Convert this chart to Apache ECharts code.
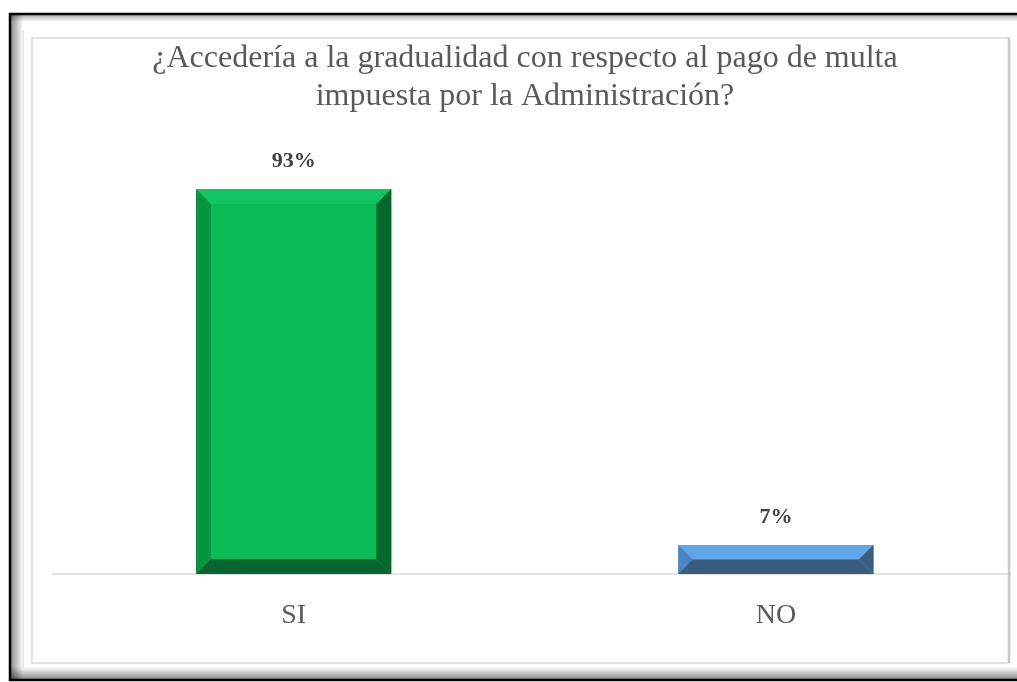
<!DOCTYPE html>
<html>
<head>
<meta charset="utf-8">
<script src="https://cdn.jsdelivr.net/npm/echarts@6/dist/echarts.min.js"></script>
<style>
  html, body { margin: 0; padding: 0; background: #fff; }
  #chart { width: 1017px; height: 682px; }
</style>
</head>
<body>
<div id="chart"></div>
<script>
// Survey answers
const categories = ['SI', 'NO'];
const percentValues = [93, 7];
const chartTitle = '¿Accedería a la gradualidad con respecto al pago de multa\nimpuesta por la Administración?';

// Bevel shades per bar: top, face, left, right, bottom
const barShades = [
  { top: '#12c462', face: '#0bbb55', left: '#07953f', right: '#04692c', bottom: '#0a6431' },
  { top: '#5fa6e6', face: '#5a9fdf', left: '#4a86c2', right: '#3a5e80', bottom: '#3b5d7d' }
];

const serif = '"Liberation Serif", "DejaVu Serif", serif';

const chart = echarts.init(document.getElementById('chart'), null, { renderer: 'canvas' });

function renderBevelBar(params, api) {
  const idx = api.value(0);
  const val = api.value(1);
  const top = api.coord([idx, val]);
  const base = api.coord([idx, 0]);
  const band = api.size([1, 0])[0];
  const w = band * 0.405;
  const x0 = top[0] - w / 2, x1 = top[0] + w / 2;
  const y0 = top[1], y1 = base[1];
  const h = y1 - y0;
  const b = Math.min(15, h / 2, w / 2);
  const c = barShades[idx];
  const poly = (pts, fill) => ({ type: 'polygon', shape: { points: pts }, style: { fill: fill } });
  return {
    type: 'group',
    children: [
      { type: 'rect', shape: { x: x0, y: y0, width: w, height: h }, style: { fill: c.face } },
      poly([[x0, y0], [x1, y0], [x1 - b, y0 + b], [x0 + b, y0 + b]], c.top),
      poly([[x0, y0], [x0 + b, y0 + b], [x0 + b, y1 - b], [x0, y1]], c.left),
      poly([[x1, y0], [x1, y1], [x1 - b, y1 - b], [x1 - b, y0 + b]], c.right),
      poly([[x0, y1], [x0 + b, y1 - b], [x1 - b, y1 - b], [x1, y1]], c.bottom),
      {
        type: 'text',
        style: {
          text: val + '%',
          x: top[0], y: y0 - 28,
          align: 'center', verticalAlign: 'middle',
          font: 'bold 22px ' + serif,
          fill: '#404040'
        }
      }
    ]
  };
}

const option = {
  backgroundColor: '#ffffff',
  animation: false,
  title: {
    text: chartTitle,
    left: 520,
    top: 35,
    textAlign: 'center',
    textStyle: {
      fontFamily: serif,
      fontSize: 32,
      fontWeight: 'normal',
      color: '#595959',
      lineHeight: 38
    }
  },
  grid: { left: 52.5, width: 968, top: 160, height: 414, containLabel: false },
  xAxis: {
    type: 'category',
    data: categories,
    axisLine: { lineStyle: { color: '#d9d9d9', width: 1.5 } },
    axisTick: { show: false },
    axisLabel: { margin: 28, fontFamily: serif, fontSize: 28, color: '#595959' }
  },
  yAxis: { type: 'value', min: 0, max: 100, show: false, splitLine: { show: false } },
  series: [{
    type: 'custom',
    renderItem: renderBevelBar,
    encode: { x: 0, y: 1 },
    data: categories.map((c, i) => [i, percentValues[i]])
  }],
  graphic: [
    // outer frame with soft inner shadow
    { type: 'rect', z: 10, shape: { x: 11, y: 15, width: 12, height: 664 },
      style: { fill: new echarts.graphic.LinearGradient(0, 0, 1, 0, [{ offset: 0, color: 'rgba(0,0,0,0.45)' }, { offset: 1, color: 'rgba(0,0,0,0)' }]) } },
    { type: 'rect', z: 10, shape: { x: 11, y: 15, width: 1010, height: 7 },
      style: { fill: new echarts.graphic.LinearGradient(0, 0, 0, 1, [{ offset: 0, color: 'rgba(0,0,0,0.3)' }, { offset: 1, color: 'rgba(0,0,0,0)' }]) } },
    { type: 'rect', z: 10, shape: { x: 11, y: 667, width: 1010, height: 12 },
      style: { fill: new echarts.graphic.LinearGradient(0, 0, 0, 1, [{ offset: 0, color: 'rgba(0,0,0,0)' }, { offset: 1, color: 'rgba(0,0,0,0.45)' }]) } },
    { type: 'rect', z: 11, shape: { x: 10, y: 14, width: 1030, height: 666 },
      style: { fill: 'none', stroke: '#000', lineWidth: 2.5 } },
    { type: 'line', z: 10, shape: { x1: 23, y1: 30, x2: 23, y2: 668 },
      style: { stroke: '#e6e6e6', lineWidth: 1.5 } },
    // inner chart-area border
    { type: 'rect', z: 10, shape: { x: 32, y: 38, width: 977, height: 625 },
      style: { fill: 'none', stroke: '#dadada', lineWidth: 1.5 } },
    { type: 'line', z: 10, shape: { x1: 1009, y1: 38, x2: 1009, y2: 663 },
      style: { stroke: '#c8c8c8', lineWidth: 2.5 } },
    // white margin past the inner border on the right
    { type: 'rect', z: 9, shape: { x: 1011, y: 30, width: 6, height: 636 },
      style: { fill: '#ffffff' } }
  ]
};

chart.setOption(option);
</script>
</body>
</html>
